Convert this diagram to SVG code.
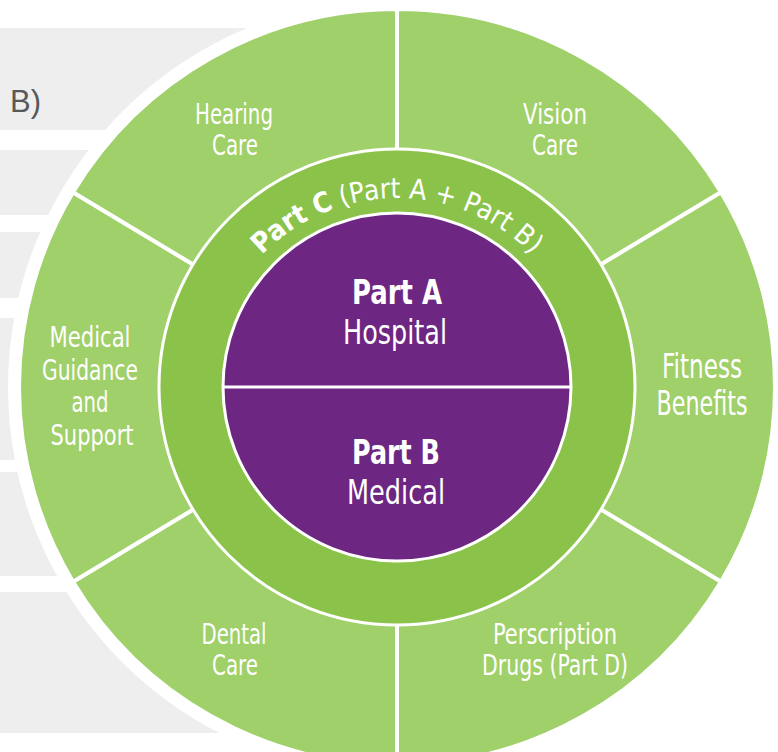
<svg xmlns="http://www.w3.org/2000/svg" xmlns:xlink="http://www.w3.org/1999/xlink" width="778" height="752" viewBox="0 0 778 752">
  <style>
    .band { fill: #eeeeee; }
    .seg { fill: #9fd06a; stroke: #ffffff; stroke-width: 4; stroke-linejoin: round; }
    .lbl { font-family: "Liberation Sans Narrow", "DejaVu Sans Condensed", Roboto, sans-serif; fill: #ffffff; text-anchor: middle; }
    .bold { font-weight: bold; }
  </style>
  <defs>
    <path id="arcC" d="M 208 387 A 189 189 0 0 1 586 387"/>
  </defs>

  <!-- left-hand background bands -->
  <g id="bands">
    <rect class="band" x="0" y="28" width="300" height="102"/>
    <rect class="band" x="0" y="150" width="300" height="65"/>
    <rect class="band" x="0" y="232" width="300" height="66"/>
    <rect class="band" x="0" y="318" width="300" height="142"/>
    <rect class="band" x="0" y="472" width="300" height="104"/>
    <rect class="band" x="0" y="592" width="300" height="141"/>
    <text x="10" y="112" font-family="'Liberation Sans', Arial, sans-serif" font-size="31" fill="#58595b">B)</text>
  </g>

  <!-- white halo around the wheel -->
  <circle cx="397" cy="387" r="389" fill="#ffffff"/>

  <!-- outer ring: six benefit segments -->
  <g id="vision">
    <path class="seg" d="M397 387 L397 9 A378 378 0 0 1 721 192.3 Z"/>
    <text class="lbl" font-size="28"><tspan x="555" y="124" textLength="64" lengthAdjust="spacingAndGlyphs">Vision</tspan><tspan x="555" y="155" textLength="46" lengthAdjust="spacingAndGlyphs">Care</tspan></text>
  </g>
  <g id="fitness">
    <path class="seg" d="M397 387 L721 192.3 A378 378 0 0 1 721 581.7 Z"/>
    <text class="lbl" font-size="34"><tspan x="702" y="378" textLength="80" lengthAdjust="spacingAndGlyphs">Fitness</tspan><tspan x="702" y="415" textLength="91" lengthAdjust="spacingAndGlyphs">Benefits</tspan></text>
  </g>
  <g id="prescription">
    <path class="seg" d="M397 387 L721 581.7 A378 378 0 0 1 397 765 Z"/>
    <text class="lbl" font-size="28"><tspan x="555" y="644" textLength="124" lengthAdjust="spacingAndGlyphs">Perscription</tspan><tspan x="555" y="675" textLength="146" lengthAdjust="spacingAndGlyphs">Drugs (Part D)</tspan></text>
  </g>
  <g id="dental">
    <path class="seg" d="M397 387 L397 765 A378 378 0 0 1 73 581.7 Z"/>
    <text class="lbl" font-size="28"><tspan x="234" y="644" textLength="65" lengthAdjust="spacingAndGlyphs">Dental</tspan><tspan x="235" y="675" textLength="46" lengthAdjust="spacingAndGlyphs">Care</tspan></text>
  </g>
  <g id="guidance">
    <path class="seg" d="M397 387 L73 581.7 A378 378 0 0 1 73 192.3 Z"/>
    <text class="lbl" font-size="29"><tspan x="90" y="347" textLength="81" lengthAdjust="spacingAndGlyphs">Medical</tspan><tspan x="90" y="380" textLength="96" lengthAdjust="spacingAndGlyphs">Guidance</tspan><tspan x="90" y="412" textLength="37" lengthAdjust="spacingAndGlyphs">and</tspan><tspan x="92" y="445" textLength="83" lengthAdjust="spacingAndGlyphs">Support</tspan></text>
  </g>
  <g id="hearing">
    <path class="seg" d="M397 387 L73 192.3 A378 378 0 0 1 397 9 Z"/>
    <text class="lbl" font-size="28"><tspan x="234" y="124" textLength="78" lengthAdjust="spacingAndGlyphs">Hearing</tspan><tspan x="235" y="155" textLength="46" lengthAdjust="spacingAndGlyphs">Care</tspan></text>
  </g>

  <!-- middle ring: Part C -->
  <g id="part-c">
    <circle cx="397" cy="387" r="238" fill="#8bc34a" stroke="#ffffff" stroke-width="3"/>
    <text class="lbl" font-size="28"><textPath xlink:href="#arcC" href="#arcC" startOffset="50%"><tspan class="bold">Part C</tspan> (Part A + Part B)</textPath></text>
  </g>

  <!-- core: Parts A and B -->
  <g id="core">
    <circle cx="397" cy="387" r="174" fill="#6d2681" stroke="#ffffff" stroke-width="3"/>
    <line x1="222" y1="387" x2="572" y2="387" stroke="#ffffff" stroke-width="3"/>
  </g>
  <g id="part-a">
    <text class="lbl bold" x="397" y="304" font-size="33" textLength="90" lengthAdjust="spacingAndGlyphs">Part A</text>
    <text class="lbl" x="395" y="344" font-size="34" textLength="104" lengthAdjust="spacingAndGlyphs">Hospital</text>
  </g>
  <g id="part-b">
    <text class="lbl bold" x="396" y="464" font-size="33" textLength="88" lengthAdjust="spacingAndGlyphs">Part B</text>
    <text class="lbl" x="396" y="504" font-size="34" textLength="98" lengthAdjust="spacingAndGlyphs">Medical</text>
  </g>
</svg>
